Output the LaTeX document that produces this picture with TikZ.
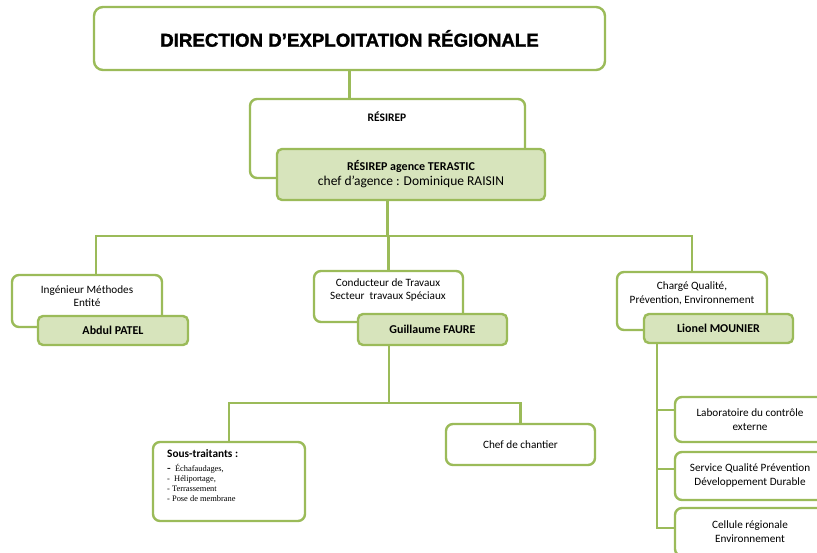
\documentclass[tikz,border=0pt]{standalone}
\usepackage{fontspec}
\setmainfont{Carlito}
\newfontfamily\titrefont[BoldFeatures={FakeBold=1.6}]{Liberation Sans}
\newfontfamily\timesfont{Liberation Serif}
\definecolor{vert}{RGB}{155,187,89}
\definecolor{vertclair}{RGB}{215,228,188}
\tikzset{
  cadre/.style={draw=vert, line width=2.4pt, rounded corners=7pt, fill=white},
  boite/.style={cadre, align=center, font=\fontsize{11.2}{14}\selectfont},
  nom/.style={draw=vert, line width=2.4pt, rounded corners=5pt, fill=vertclair,
    font=\bfseries\fontsize{12}{13}\selectfont},
  texte/.style={align=center, inner sep=0pt},
  lien/.style={draw=vert, line width=2.2pt},
}
\begin{document}
\begin{tikzpicture}[x=1pt, y=-1pt]
\useasboundingbox (0,0) rectangle (817,553);
\clip (0,0) rectangle (817,553);

% direction
\node[cadre, rounded corners=9pt, minimum width=511pt, minimum height=63pt,
  font=\titrefont\bfseries\fontsize{18.7}{20}\selectfont] (direction) at (349.5,38.5)
  {DIRECTION D’EXPLOITATION RÉGIONALE};

% résirep
\node[cadre, minimum width=275pt, minimum height=79pt] (resirep) at (387.5,138.5) {};
\node[texte, font=\bfseries\fontsize{11.5}{12}\selectfont] (resirep-t) at (387,117) {RÉSIREP};
\node[nom, minimum width=268pt, minimum height=51pt, align=center,
  font=\fontsize{12}{15}\selectfont] (agence) at (411,174.5)
  {\textbf{RÉSIREP agence TERASTIC}\\{\fontsize{13.5}{15}\selectfont chef d’agence : Dominique RAISIN}};

% trois responsables
\node[cadre, minimum width=150pt, minimum height=52pt] (ingenieur) at (87,301) {};
\node[texte, font=\fontsize{11.2}{12.5}\selectfont] (ingenieur-t) at (87,296) {Ingénieur Méthodes\\Entité};
\node[nom, minimum width=150pt, minimum height=29pt] (patel) at (113,330.5) {Abdul PATEL};

\node[cadre, minimum width=149pt, minimum height=51pt] (conducteur) at (388.5,296.5) {};
\node[texte, font=\fontsize{11.2}{13}\selectfont] (conducteur-t) at (388,290.5)
  {Conducteur de Travaux\\Secteur\ \ travaux Spéciaux};
\node[nom, minimum width=149pt, minimum height=31pt] (faure) at (432.5,329.5) {Guillaume FAURE};

\node[cadre, minimum width=150pt, minimum height=58pt] (charge) at (692,301) {};
\node[texte, font=\fontsize{11.2}{14}\selectfont] (charge-t) at (692,293)
  {Chargé Qualité,\\Prévention, Environnement};
\node[nom, minimum width=149pt, minimum height=29pt] (mounier) at (718.5,328.5) {Lionel MOUNIER};

% chantier
\node[cadre, minimum width=152pt, minimum height=79pt] (sous) at (229,481.5) {};
\node[anchor=north west, align=left, inner sep=0pt,
  font=\timesfont\fontsize{8.4}{10}\selectfont] (sous-t) at (167,449)
  {{\rmfamily\bfseries\fontsize{11.3}{12}\selectfont Sous-traitants :}\\[4pt]
   {\fontsize{11}{10}\selectfont\textbf{-}}\ \ Échafaudages,\\
   -\ \ Héliportage,\\
   - Terrassement\\
   - Pose de membrane};
\node[boite, minimum width=149pt, minimum height=41pt] (chef) at (520.5,444.5) {Chef de chantier};

% qualité
\node[boite, minimum width=150pt, minimum height=45pt] (labo) at (750,419.5)
  {Laboratoire du contrôle\\externe};
\node[boite, minimum width=150pt, minimum height=48pt] (service) at (750,476)
  {Service Qualité Prévention\\Développement Durable};
\node[boite, minimum width=150pt, minimum height=48pt] (cellule) at (750,532)
  {Cellule régionale\\Environnement};

% liens
\coordinate (busL) at (96,236);
\coordinate (travaux) at (389,403);
\coordinate (qualite) at (657,528);
\coordinate (labo-w) at ([yshift=9.5pt]labo.west);
\coordinate (service-w) at ([yshift=7pt]service.west);

\draw[lien] (direction.south) -- (direction.south |- resirep.north);
\draw[lien] (resirep.center |- agence.south) -- (resirep.center |- busL);
\draw[lien] (ingenieur.north -| busL) |- (charge.north |- busL) -- (charge.north);
\draw[lien] (conducteur.north |- busL) -- (conducteur.north);
\draw[lien] (faure.south -| travaux) -- (travaux);
\draw[lien] (sous.north) |- (travaux) -| (chef.north);
\draw[lien] (mounier.south -| qualite) -- (qualite) -- (qualite -| cellule.west);
\draw[lien] (labo-w) -- (labo-w -| qualite);
\draw[lien] (service-w) -- (service-w -| qualite);
\end{tikzpicture}
\end{document}
